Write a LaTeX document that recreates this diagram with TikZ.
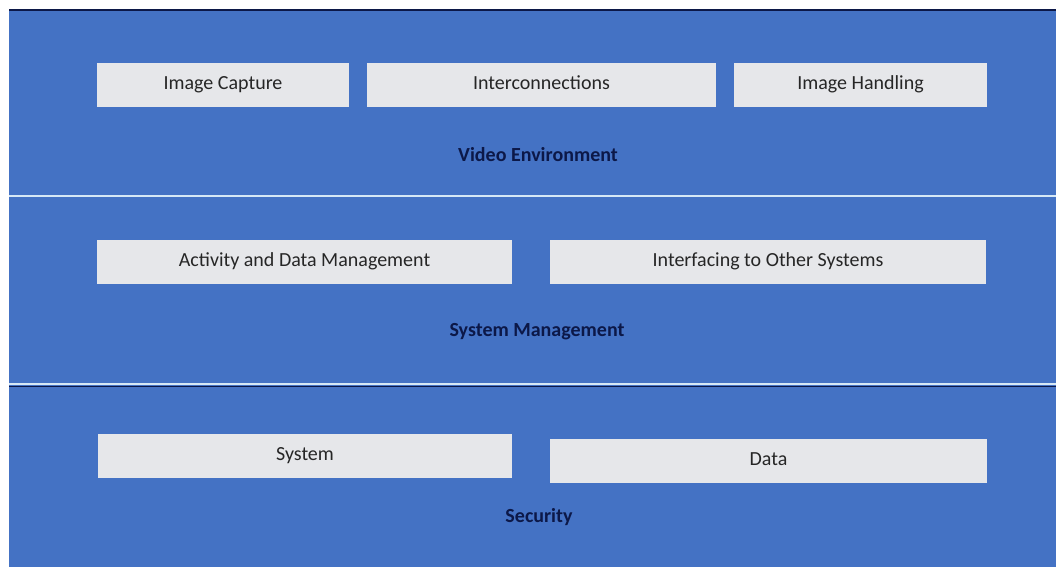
\documentclass[tikz,border=0pt]{standalone}
\usepackage{fontspec}
\setmainfont{Carlito}
\definecolor{bandblue}{RGB}{68,114,196}
\definecolor{boxgray}{RGB}{230,231,234}
\definecolor{labelnavy}{RGB}{12,24,72}
\definecolor{sepline}{RGB}{214,232,246}
\tikzset{
    partbox/.style={fill=boxgray, text=black!85, minimum height=44pt,
        inner sep=0pt, text height=13pt, text depth=4pt,
        font=\fontsize{20}{24}\selectfont},
    layerlabel/.style={text=labelnavy, font=\fontsize{20}{24}\selectfont\bfseries}
}
\begin{document}
\begin{tikzpicture}[x=1pt,y=-1pt]
                \useasboundingbox (0,0) rectangle (1056,567);
                \fill[bandblue] (9,10) rectangle (1056,567);
                \draw[labelnavy, line width=1.5pt] (9,10) -- (1056,10);
                \draw[sepline, line width=2pt] (9,196) -- (1056,196);
                \draw[sepline, line width=2pt] (9,384) -- (1056,384);
                \draw[labelnavy, line width=1pt] (9,386) -- (1056,386);

                \node[partbox, minimum width=252pt] (capture) at (223,85) {Image Capture};
                \node[partbox, minimum width=349pt] (interconn) at (541.5,85) {Interconnections};
                \node[partbox, minimum width=253pt] (handling) at (860.5,85) {Image Handling};
                \node[layerlabel] (video) at (538,155) {Video Environment};

                \node[partbox, minimum width=415pt] (activity) at (304.5,262) {Activity and Data Management};
                \node[partbox, minimum width=436pt] (interfacing) at (768,262) {Interfacing to Other Systems};
                \node[layerlabel] (sysman) at (537,332) {System Management};

                \node[partbox, minimum width=414pt] (system) at (305,456) {System};
                \node[partbox, minimum width=437pt] (data) at (768.5,461) {Data};
                \node[layerlabel] (security) at (539,517) {Security};
            \end{tikzpicture}
\end{document}
